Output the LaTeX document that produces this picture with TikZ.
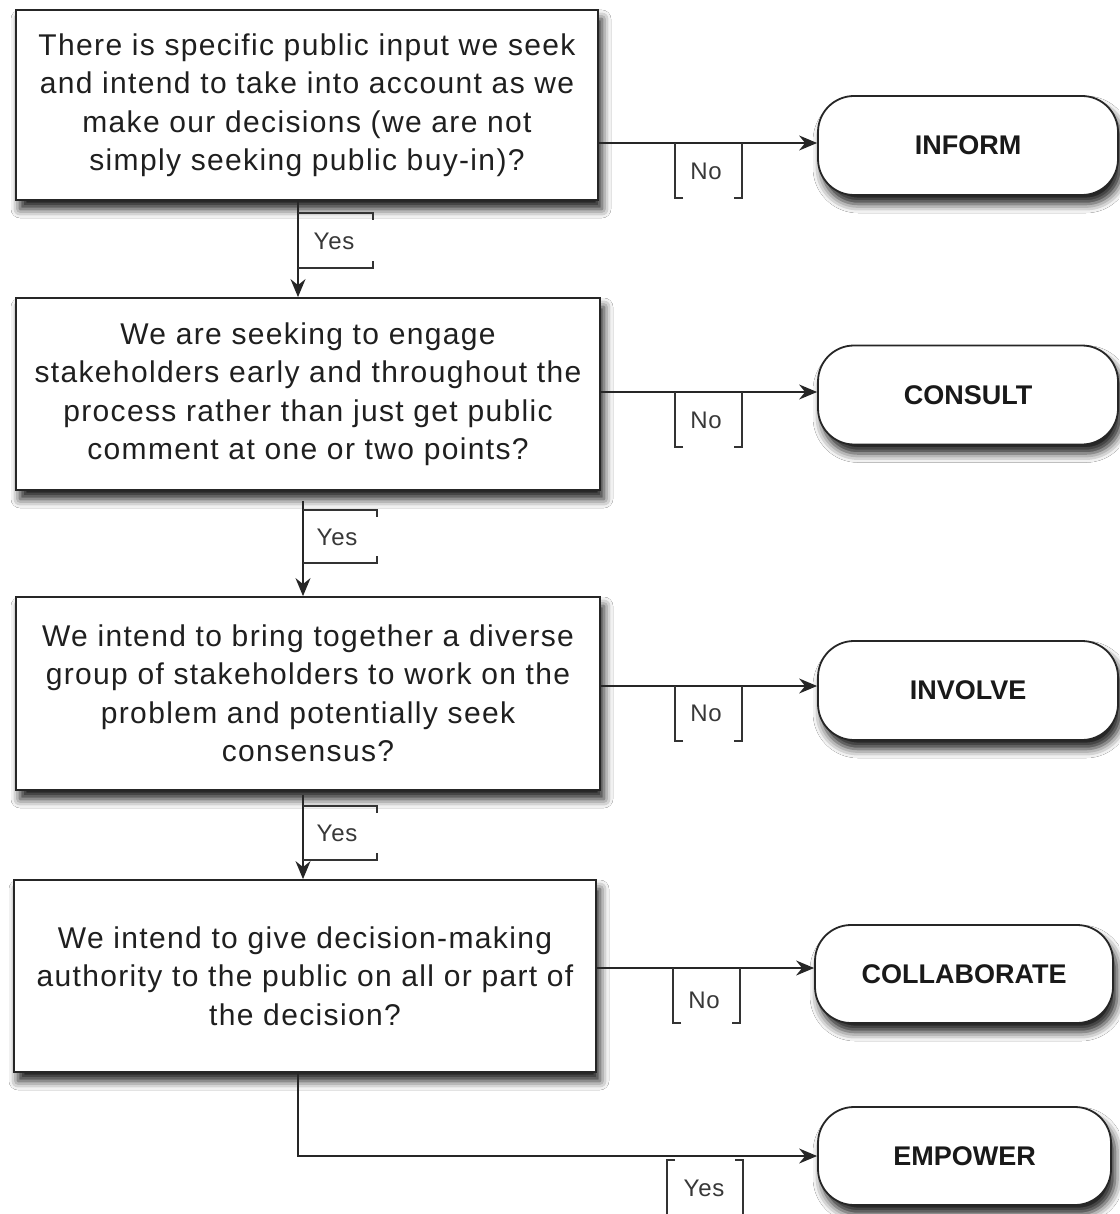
\documentclass[tikz,border=0pt]{standalone}
\usepackage{fontspec}
\setmainfont{Liberation Sans}
\newfontfamily\boxfont[LetterSpace=4.5]{Liberation Sans}
\newfontfamily\labfont[LetterSpace=3]{Liberation Sans}
\usetikzlibrary{arrows.meta,shadows.blur,calc}
\begin{document}
\begin{tikzpicture}[x=1pt,y=-1pt,
  shd/.style={blur shadow={shadow xshift=4pt, shadow yshift=-9pt, shadow blur radius=9pt, shadow opacity=90}},
  qbox/.style={rectangle, draw=black!85, line width=1.8pt, fill=white, align=center, inner sep=0pt,
    font=\boxfont\fontsize{30}{38.5}\selectfont, text=black!88, shd},
  outc/.style={rectangle, rounded corners=36pt, draw=black!85, line width=1.8pt, fill=white,
    minimum width=300pt, minimum height=99pt, inner sep=0pt,
    font=\bfseries\fontsize{27}{30}\selectfont, text=black!90, shd},
  arr/.style={draw=black!85, line width=1.6pt, -{Stealth[length=18pt,width=15pt,inset=6pt]}},
  brk/.style={draw=black!80, line width=1.6pt},
  lab/.style={font=\labfont\fontsize{24}{28}\selectfont, text=black!78, inner sep=0pt}]
\fill[white] (0,0) rectangle (1119,1214);
\useasboundingbox (0,0) rectangle (1119,1214);

% question boxes
\node[qbox, minimum width=582pt, minimum height=190pt] (q1) at (307,105)
  {There is specific public input we seek\\and intend to take into account as we\\make our decisions (we are not\\simply seeking public buy-in)?};
\node[qbox, minimum width=584pt, minimum height=192pt] (q2) at (308,394)
  {We are seeking to engage\\stakeholders early and throughout the\\process rather than just get public\\comment at one or two points?};
\node[qbox, minimum width=584pt, minimum height=193pt] (q3) at (308,693.5)
  {We intend to bring together a diverse\\group of stakeholders to work on the\\problem and potentially seek\\consensus?};
\node[qbox, minimum width=582pt, minimum height=192pt] (q4) at (305,976)
  {We intend to give decision-making\\authority to the public on all or part of\\the decision?};

% outcome boxes
\node[outc] (inf) at (968,145.5) {INFORM};
\node[outc] (con) at (968,395) {CONSULT};
\node[outc] (inv) at (968,690.5) {INVOLVE};
\node[outc, minimum width=298pt, minimum height=98pt] (col) at (964,974) {COLLABORATE};
\node[outc, minimum width=293pt, minimum height=98pt] (emp) at (964.5,1156) {EMPOWER};

% No connectors
\draw[arr] ([yshift=2.5pt]q1.east |- inf.west) -- ([yshift=2.5pt]inf.west);
\draw[arr] ([yshift=3pt]q2.east |- con.west) -- ([yshift=3pt]con.west);
\draw[arr] ([yshift=4.5pt]q3.east |- inv.west) -- ([yshift=4.5pt]inv.west);
\draw[arr] ([yshift=6pt]q4.east |- col.west) -- ([yshift=6pt]col.west);

% Yes connectors
\draw[arr] ([xshift=-9pt]q1.south) -- ([xshift=-9pt]q1.south |- q2.north);
\draw[arr] ([xshift=-5pt,yshift=-10pt]q2.south) -- ([xshift=-5pt]q2.south |- q3.north);
\draw[arr] ([xshift=-5pt,yshift=-4pt]q3.south) -- ([xshift=-5pt]q3.south |- q4.north);
\draw[arr] ([xshift=-7pt]q4.south) |- (emp.west);

% No brackets and labels
\foreach \yy/\lx/\rx in {143/675/742, 392/675/742, 686/675/742, 968/673/740}{
  \draw[brk] (\lx+8,\yy+55) -- (\lx,\yy+55) -- (\lx,\yy);
  \draw[brk] (\rx-8,\yy+55) -- (\rx,\yy+55) -- (\rx,\yy);
}
\node[lab] (n1) at (706,171) {No};
\node[lab] (n2) at (706,420) {No};
\node[lab] (n3) at (706,713) {No};
\node[lab] (n4) at (704,1000) {No};

% Yes brackets and labels
\foreach \xx/\tt/\bb/\rr in {298/213/268/373, 303/510/563/377, 303/806/860/377}{
  \draw[brk] (\xx,\tt) -- (\rr,\tt) -- (\rr,\tt+7);
  \draw[brk] (\xx,\bb) -- (\rr,\bb) -- (\rr,\bb-7);
}
\draw[brk] (675,1160) -- (667,1160) -- (667,1220);
\draw[brk] (735,1160) -- (743,1160) -- (743,1220);
\node[lab] (y1) at (334,241) {Yes};
\node[lab] (y2) at (337,537) {Yes};
\node[lab] (y3) at (337,833) {Yes};
\node[lab] (y4) at (704,1188) {Yes};
\end{tikzpicture}
\end{document}
